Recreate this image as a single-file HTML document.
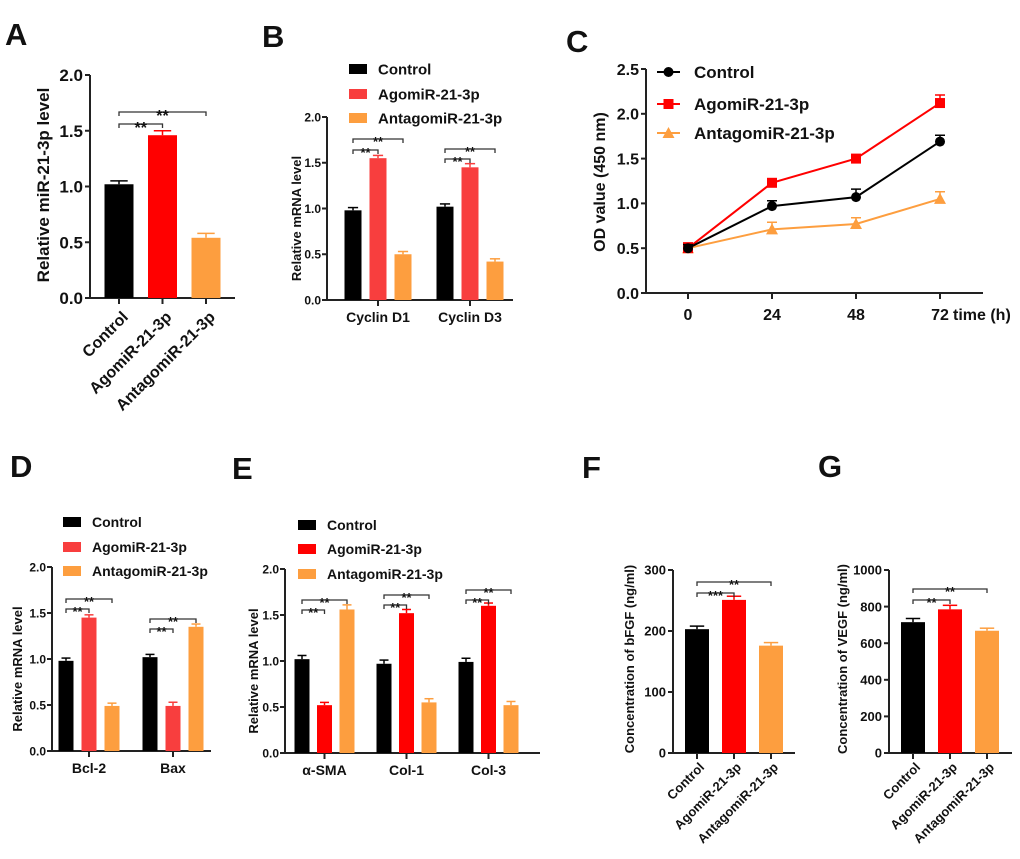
<!DOCTYPE html>
<html><head><meta charset="utf-8">
<style>
html,body{margin:0;padding:0;background:#fff;}
svg{display:block;font-family:"Liberation Sans",Arial,sans-serif;font-weight:bold;}
</style></head>
<body>
<svg id="fig" width="1020" height="859" viewBox="0 0 1020 859"></svg>
<script>
// ---- data ----
const seriesNames = ["Control","AgomiR-21-3p","AntagomiR-21-3p"];
// Panel A
const aCats = ["Control","AgomiR-21-3p","AntagomiR-21-3p"];
const aVals = [1.02,1.46,0.54];
const aErr = [0.03,0.04,0.04];
const aTicks = [0,0.5,1.0,1.5,2.0];
const aTickLabels = ["0.0","0.5","1.0","1.5","2.0"];
// Panel B
const bCats = ["Cyclin D1","Cyclin D3"];
const bControl = [0.98,1.02];
const bAgomir = [1.55,1.45];
const bAntagomir = [0.50,0.42];
const bErrControl = [0.03,0.03];
const bErrAgomir = [0.03,0.04];
const bErrAntagomir = [0.03,0.03];
// Panel C
const cTimes = [0,24,48,72];
const cTimeLabels = ["0","24","48","72"];
const cControl = [0.50,0.97,1.07,1.69];
const cAgomir = [0.50,1.23,1.50,2.12];
const cAntagomir = [0.50,0.71,0.77,1.05];
const cErrControl = [0.04,0.06,0.09,0.07];
const cErrAgomir = [0.06,0.03,0.03,0.09];
const cErrAntagomir = [0.03,0.08,0.07,0.08];
const cTicks = [0,0.5,1.0,1.5,2.0,2.5];
const cTickLabels = ["0.0","0.5","1.0","1.5","2.0","2.5"];
// Panel D
const dCats = ["Bcl-2","Bax"];
const dControl = [0.98,1.02];
const dAgomir = [1.45,0.49];
const dAntagomir = [0.49,1.35];
const dErrControl = [0.03,0.03];
const dErrAgomir = [0.03,0.04];
const dErrAntagomir = [0.03,0.03];
// Panel E
const eCats = ["α-SMA","Col-1","Col-3"];
const eControl = [1.02,0.97,0.99];
const eAgomir = [0.52,1.52,1.60];
const eAntagomir = [1.56,0.55,0.52];
const eErrControl = [0.04,0.04,0.04];
const eErrAgomir = [0.03,0.04,0.03];
const eErrAntagomir = [0.05,0.04,0.04];
// Panel F
const fVals = [203,251,176];
const fErr = [5,6,5];
const fTicks = [0,100,200,300];
const fTickLabels = ["0","100","200","300"];
// Panel G
const gVals = [715,785,668];
const gErr = [20,22,14];
const gTicks = [0,200,400,600,800,1000];
const gTickLabels = ["0","200","400","600","800","1000"];
const mrnaTicks = [0,0.5,1.0,1.5,2.0];
const mrnaTickLabels = ["0.0","0.5","1.0","1.5","2.0"];

// ---- drawing helpers ----
const NS="http://www.w3.org/2000/svg";
const svg=document.getElementById('fig');
function mk(tag,attrs,parent,name){
  const e=document.createElementNS(NS,tag);
  for(const k in attrs)e.setAttribute(k,attrs[k]);
  
  
  (parent||svg).appendChild(e);return e;
}
function txt(s,x,y,size,parent,name,extra){
  const a=Object.assign({x:x,y:y,'font-size':size,fill:'#111'},extra||{});
  const t=mk('text',a,parent,name);t.textContent=s;return t;
}
function panelLabel(s,x,y){txt(s,x,y,31,svg,'panel-label-'+s.toLowerCase());}
function makeY(top,bot,vmax){return v=>bot-(v/vmax)*(bot-top);}
function yAxis(g,ax,top,bot,vmax,ticks,labels,fs,name,gap){
  const y=makeY(top,bot,vmax);
  gap=gap||7;
  mk('line',{x1:ax,y1:top,x2:ax,y2:bot,stroke:'#222','stroke-width':2},g,name+'-y-axis');
  ticks.forEach((t,i)=>{
    mk('line',{x1:ax-5,y1:y(t),x2:ax,y2:y(t),stroke:'#222','stroke-width':2},g,name+'-y-tick');
    txt(labels[i],ax-gap,y(t)+fs*0.36,fs,g,name+'-y-tick-label',{'text-anchor':'end'});
  });
  return y;
}
function yTitle(g,s,x,cy,fs,name){
  txt(s,x,cy,fs,g,name,{'text-anchor':'middle',transform:`rotate(-90 ${x} ${cy})`});
}
function bar(g,cx,w,y,v,e,col,name){
  const bot=y(0);
  mk('rect',{x:cx-w/2,y:y(v),width:w,height:bot-y(v),fill:col},g,name);
  const ey=y(v+e);
  mk('line',{x1:cx,y1:y(v),x2:cx,y2:ey,stroke:col,'stroke-width':1.5},g,name+'-error');
  mk('line',{x1:cx-w*0.3,y1:ey,x2:cx+w*0.3,y2:ey,stroke:col,'stroke-width':1.5},g,name+'-error-cap');
}
function bracket(g,x1,x2,yy,label,fs,name){
  mk('path',{d:`M${x1} ${yy+4}V${yy}H${x2}V${yy+4}`,fill:'none',stroke:'#333','stroke-width':1.3},g,name);
  txt(label,(x1+x2)/2,yy+fs*0.55,fs,g,name+'-label',{'text-anchor':'middle'});
}
function legend(g,x,ys,cols,fs,name){
  seriesNames.forEach((s,i)=>{
    mk('rect',{x:x,y:ys[i]-5,width:18,height:10,fill:cols[i]},g,name+'-swatch');
    txt(s,x+29,ys[i]+fs*0.36,fs,g,name+'-entry');
  });
}
function xAxis(g,ax,bot,end,name){
  mk('line',{x1:ax,y1:bot,x2:end,y2:bot,stroke:'#222','stroke-width':2},g,name+'-x-axis');
}
function xTick(g,x,bot,name){mk('line',{x1:x,y1:bot,x2:x,y2:bot+6,stroke:'#222','stroke-width':2},g,name+'-x-tick');}
const RED='#ff0000',LRED='#f83e3e',ORG='#fd9e3f',BLK='#000';

// ---- Panel A ----
(function(){
  const g=mk('g',{},svg,'panel-a');
  panelLabel('A',5,45);
  const top=75,bot=298,ax=90;
  const y=yAxis(g,ax,top,bot,2.0,aTicks,aTickLabels,17,'a');
  xAxis(g,ax,bot,235,'a');
  yTitle(g,'Relative miR-21-3p level',49,185,17,'a-y-title');
  const cols=[BLK,RED,ORG];
  const xc=i=>119+i*43.5;
  aCats.forEach((c,i)=>{
    bar(g,xc(i),29,y,aVals[i],aErr[i],cols[i],'a-bar-'+i);
    xTick(g,xc(i),bot,'a');
    txt(c,xc(i)+10,318,16,g,'a-x-label',{'text-anchor':'end',transform:`rotate(-45 ${xc(i)+10} 318)`});
  });
  bracket(g,xc(0),xc(1),124,'**',16,'a-sig-1');
  bracket(g,xc(0),xc(2),112,'**',16,'a-sig-2');
})();

// ---- grouped bar helper ----
function grouped(cfg){
  const g=mk('g',{},svg,cfg.name);
  const y=yAxis(g,cfg.ax,cfg.top,cfg.bot,2.0,mrnaTicks,mrnaTickLabels,12,cfg.name,6);
  xAxis(g,cfg.ax,cfg.bot,cfg.end,cfg.name);
  yTitle(g,'Relative mRNA level',cfg.tx,(cfg.top+cfg.bot)/2+10,13,cfg.name+'-y-title');
  const xc=(gi,si)=>cfg.start+gi*cfg.gstep+si*cfg.bstep;
  cfg.cats.forEach((c,gi)=>{
    cfg.series.forEach((s,si)=>bar(g,xc(gi,si),cfg.bw,y,s[gi],cfg.errs[si][gi],cfg.cols[si],cfg.name+'-bar-'+gi+'-'+si));
    xTick(g,xc(gi,1),cfg.bot,cfg.name);
    txt(c,xc(gi,1),cfg.bot+22,14,g,cfg.name+'-x-label',{'text-anchor':'middle'});
    bracket(g,xc(gi,0),xc(gi,1),cfg.br[gi][0],'**',13,cfg.name+'-sig-'+gi+'-1');
    bracket(g,xc(gi,0),xc(gi,2),cfg.br[gi][1],'**',13,cfg.name+'-sig-'+gi+'-2');
  });
  legend(g,cfg.lx,cfg.ly,cfg.cols,cfg.lfs,cfg.name+'-legend');
}
panelLabel('B',262,47);
grouped({name:'panel-b',ax:327,top:117,bot:300,end:513,tx:301,start:353,gstep:92,bstep:25,bw:17,
  cats:bCats,series:[bControl,bAgomir,bAntagomir],errs:[bErrControl,bErrAgomir,bErrAntagomir],
  cols:[BLK,LRED,ORG],br:[[150,139],[159,149]],lx:349,ly:[69,94,118],lfs:15});
panelLabel('D',10,477);
grouped({name:'panel-d',ax:52,top:567,bot:751,end:211,tx:22,start:66,gstep:84,bstep:23,bw:15,
  cats:dCats,series:[dControl,dAgomir,dAntagomir],errs:[dErrControl,dErrAgomir,dErrAntagomir],
  cols:[BLK,LRED,ORG],br:[[609,599],[629,619]],lx:63,ly:[522,547,571],lfs:14});
panelLabel('E',232,479);
grouped({name:'panel-e',ax:285,top:569,bot:753,end:540,tx:258,start:302,gstep:82,bstep:22.5,bw:15,
  cats:eCats,series:[eControl,eAgomir,eAntagomir],errs:[eErrControl,eErrAgomir,eErrAntagomir],
  cols:[BLK,RED,ORG],br:[[610,600],[605,595],[600,590]],lx:298,ly:[525,549,574],lfs:14});

// ---- Panel C ----
(function(){
  const g=mk('g',{},svg,'panel-c');
  panelLabel('C',566,52);
  const top=69,bot=293,ax=646;
  const y=yAxis(g,ax,top,bot,2.5,cTicks,cTickLabels,16,'c');
  xAxis(g,ax,bot,983,'c');
  yTitle(g,'OD value (450 nm)',605,182,16,'c-y-title');
  const x=t=>688+(t/72)*(940-688);
  cTimes.forEach((t,i)=>{
    xTick(g,x(t),bot,'c');
    txt(cTimeLabels[i],x(t),320,16,g,'c-x-label',{'text-anchor':'middle'});
  });
  txt('time (h)',953,320,16,g,'c-x-title');
  const series=[[cAntagomir,cErrAntagomir,ORG,'tri'],[cAgomir,cErrAgomir,RED,'sq'],[cControl,cErrControl,BLK,'dot']];
  function marker(px,py,col,type,name){
    if(type==='dot')mk('circle',{cx:px,cy:py,r:5,fill:col},g,name);
    else if(type==='sq')mk('rect',{x:px-5,y:py-5,width:10,height:10,fill:col},g,name);
    else mk('polygon',{points:`${px},${py-6} ${px+6},${py+5} ${px-6},${py+5}`,fill:col},g,name);
  }
  series.forEach((s,si)=>{
    const [vals,errs,col,type]=s;
    const nm='c-series-'+type;
    mk('polyline',{points:cTimes.map((t,i)=>x(t)+','+y(vals[i])).join(' '),fill:'none',stroke:col,'stroke-width':2},g,nm+'-line');
    cTimes.forEach((t,i)=>{
      const ey=y(vals[i]+errs[i]);
      mk('path',{d:`M${x(t)} ${y(vals[i])}V${ey}M${x(t)-5} ${ey}H${x(t)+5}`,stroke:col,'stroke-width':1.5,fill:'none'},g,nm+'-error');
      marker(x(t),y(vals[i]),col,type,nm+'-point');
    });
  });
  const ly=[72,104,133],cols=[BLK,RED,ORG],types=['dot','sq','tri'];
  seriesNames.forEach((s,i)=>{
    mk('line',{x1:657,y1:ly[i],x2:680,y2:ly[i],stroke:cols[i],'stroke-width':2},g,'c-legend-line');
    marker(668.5,ly[i],cols[i],types[i],'c-legend-marker');
    txt(s,694,ly[i]+6,17,g,'c-legend-entry');
  });
})();

// ---- Panels F, G ----
function simple(cfg){
  const g=mk('g',{},svg,cfg.name);
  const y=yAxis(g,cfg.ax,570,753,cfg.vmax,cfg.ticks,cfg.labels,13,cfg.name);
  xAxis(g,cfg.ax,753,cfg.end,cfg.name);
  yTitle(g,cfg.title,cfg.tx,659,13,cfg.name+'-y-title');
  const cols=[BLK,RED,ORG];
  const xc=i=>cfg.start+i*37;
  seriesNames.forEach((c,i)=>{
    bar(g,xc(i),24,y,cfg.vals[i],cfg.errs[i],cols[i],cfg.name+'-bar-'+i);
    xTick(g,xc(i),753,cfg.name);
    txt(c,xc(i)+8,768,13,g,cfg.name+'-x-label',{'text-anchor':'end',transform:`rotate(-45 ${xc(i)+8} 768)`});
  });
  bracket(g,xc(0),xc(1),cfg.br[0],cfg.sig[0],13,cfg.name+'-sig-1');
  bracket(g,xc(0),xc(2),cfg.br[1],cfg.sig[1],13,cfg.name+'-sig-2');
}
panelLabel('F',582,478);
simple({name:'panel-f',ax:673,end:795,vmax:300,ticks:fTicks,labels:fTickLabels,title:'Concentration of bFGF (ng/ml)',tx:634,start:697,vals:fVals,errs:fErr,br:[593,582],sig:['***','**']});
panelLabel('G',818,477);
simple({name:'panel-g',ax:889,end:1012,vmax:1000,ticks:gTicks,labels:gTickLabels,title:'Concentration of VEGF (ng/ml)',tx:847,start:913,vals:gVals,errs:gErr,br:[600,589],sig:['**','**']});
</script>
</body></html>
